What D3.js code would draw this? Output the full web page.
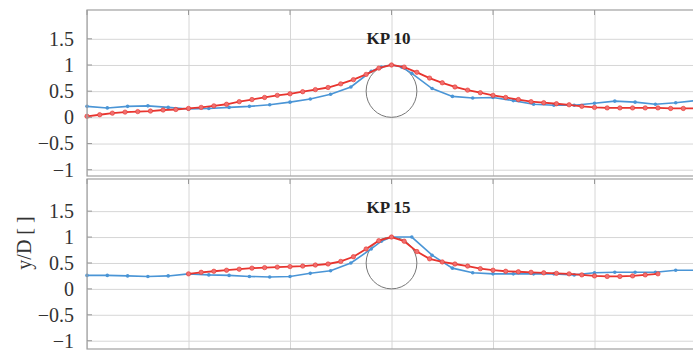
<!DOCTYPE html>
<html>
<head>
<meta charset="utf-8">
<script src="https://cdn.jsdelivr.net/npm/d3@7"></script>
<style>
  body { margin: 0; background: #fff; }
  svg { display: block; }
  text { font-family: "Liberation Serif", "Times New Roman", Times, serif !important; }
</style>
</head>
<body>
<div id="chart"></div>
<script>
// x/D positions and y/D values
const yTicks = [-1, -0.5, 0, 0.5, 1, 1.5];
const xTicks = [-6, -4, -2, 0, 2, 4, 6];

// KP 10
const kp10BlueX = [-6.0,-5.6,-5.2,-4.8,-4.4,-4.0,-3.6,-3.2,-2.8,-2.4,-2.0,-1.6,-1.2,-0.8,-0.4,-0.2,0,0.2,0.4,0.8,1.2,1.6,2.0,2.4,2.8,3.2,3.6,4.0,4.4,4.8,5.2,5.6,6.0];
const kp10BlueY = [0.21,0.18,0.21,0.22,0.19,0.16,0.17,0.19,0.21,0.24,0.29,0.35,0.44,0.58,0.88,0.96,1.0,0.96,0.84,0.55,0.40,0.37,0.38,0.32,0.25,0.23,0.23,0.27,0.31,0.29,0.25,0.28,0.32];
const kp10RedX = [-6.0,-5.75,-5.5,-5.25,-5.0,-4.75,-4.5,-4.25,-4.0,-3.75,-3.5,-3.25,-3.0,-2.75,-2.5,-2.25,-2.0,-1.75,-1.5,-1.25,-1.0,-0.75,-0.5,-0.25,0,0.25,0.5,0.75,1.0,1.25,1.5,1.75,2.0,2.25,2.5,2.75,3.0,3.25,3.5,3.75,4.0,4.25,4.5,4.75,5.0,5.25,5.5,5.75,6.0];
const kp10RedY = [0.02,0.05,0.08,0.10,0.11,0.12,0.14,0.15,0.17,0.19,0.22,0.25,0.30,0.34,0.38,0.42,0.45,0.49,0.53,0.57,0.64,0.72,0.82,0.94,1.0,0.96,0.86,0.75,0.66,0.58,0.52,0.47,0.42,0.38,0.34,0.30,0.28,0.26,0.24,0.21,0.19,0.18,0.18,0.18,0.18,0.18,0.17,0.17,0.17];

// KP 15
const kp15BlueX = [-6.0,-5.6,-5.2,-4.8,-4.4,-4.0,-3.6,-3.2,-2.8,-2.4,-2.0,-1.6,-1.2,-0.8,-0.4,-0.2,0,0.4,0.8,1.2,1.6,2.0,2.4,2.8,3.2,3.6,4.0,4.4,4.8,5.2,5.6,6.0];
const kp15BlueY = [0.26,0.26,0.25,0.24,0.25,0.29,0.27,0.26,0.24,0.23,0.24,0.30,0.35,0.50,0.77,0.92,1.0,1.0,0.65,0.40,0.31,0.29,0.29,0.29,0.29,0.27,0.31,0.32,0.32,0.32,0.36,0.36];
const kp15RedX = [-4.0,-3.75,-3.5,-3.25,-3.0,-2.75,-2.5,-2.25,-2.0,-1.75,-1.5,-1.25,-1.0,-0.75,-0.5,-0.25,0,0.25,0.5,0.75,1.0,1.25,1.5,1.75,2.0,2.25,2.5,2.75,3.0,3.25,3.5,3.75,4.0,4.25,4.5,4.75,5.0,5.25];
const kp15RedY = [0.29,0.32,0.34,0.36,0.38,0.40,0.41,0.42,0.43,0.44,0.46,0.48,0.53,0.62,0.77,0.93,1.0,0.92,0.72,0.58,0.52,0.48,0.44,0.39,0.36,0.34,0.33,0.32,0.31,0.30,0.29,0.27,0.25,0.24,0.24,0.25,0.27,0.29];

const W = 693, H = 351;
const left = 87, right = 696;
const blue = "#4a95d6", red = "#e8342e";

const svg = d3.select("#chart").append("svg")
    .attr("width", W)
    .attr("height", H);

const x = d3.scaleLinear().domain([-6, 6]).range([left, right]);

function zip(xs, ys) {
  return xs.map((v, i) => ({ x: v, y: ys[i] }));
}

function panel(top, bottom, yDomain, title, blueX, blueY, redX, redY) {
  const y = d3.scaleLinear().domain(yDomain).range([bottom, top]);
  const g = svg.append("g");

  // grid
  g.append("g")
      .attr("transform", "translate(0," + bottom + ")")
      .call(d3.axisBottom(x).tickValues(xTicks).tickSize(-(bottom - top)).tickFormat(""))
      .call(a => a.select(".domain").remove())
      .selectAll("line").attr("stroke", "#d6d6d6");

  g.append("g")
      .attr("transform", "translate(" + left + ",0)")
      .call(d3.axisLeft(y).tickValues(yTicks).tickSize(-(right - left)).tickFormat(""))
      .call(a => a.select(".domain").remove())
      .selectAll("line").attr("stroke", "#d6d6d6");

  // tick labels
  g.append("g")
      .attr("transform", "translate(" + left + ",0)")
      .call(d3.axisLeft(y).tickValues(yTicks).tickSize(0).tickPadding(13).tickFormat(d3.format("")))
      .call(a => a.select(".domain").remove())
      .selectAll("text")
      .attr("font-size", 20)
      .attr("fill", "#333");

  // pipe outline, diameter 1 centred at (0, 0.5)
  g.append("ellipse")
      .attr("cx", x(0))
      .attr("cy", y(0.5))
      .attr("rx", x(0.5) - x(0))
      .attr("ry", y(0) - y(0.5))
      .attr("fill", "none")
      .attr("stroke", "#777")
      .attr("stroke-width", 1);

  const line = d3.line().x(d => x(d.x)).y(d => y(d.y));

  const b = zip(blueX, blueY);
  g.append("path").datum(b)
      .attr("d", line)
      .attr("fill", "none")
      .attr("stroke", blue)
      .attr("stroke-width", 1.6);
  g.selectAll(".bdot").data(b).enter().append("circle")
      .attr("cx", d => x(d.x))
      .attr("cy", d => y(d.y))
      .attr("r", 1.8)
      .attr("fill", blue);

  const r = zip(redX, redY);
  g.append("path").datum(r)
      .attr("d", line)
      .attr("fill", "none")
      .attr("stroke", red)
      .attr("stroke-width", 1.8);
  g.selectAll(".rdot").data(r).enter().append("circle")
      .attr("cx", d => x(d.x))
      .attr("cy", d => y(d.y))
      .attr("r", 2.2)
      .attr("fill", "#f07070")
      .attr("stroke", red)
      .attr("stroke-width", 0.6);

  // frame
  g.append("rect")
      .attr("x", left)
      .attr("y", top)
      .attr("width", right - left)
      .attr("height", bottom - top)
      .attr("fill", "none")
      .attr("stroke", "#a0a0a0")
      .attr("stroke-width", 1.2);

  // small inward ticks
  g.selectAll(".yt").data(yTicks).enter().append("line")
      .attr("x1", left).attr("x2", left + 5)
      .attr("y1", d => y(d)).attr("y2", d => y(d))
      .attr("stroke", "#999");
  g.selectAll(".xt").data(xTicks).enter().append("line")
      .attr("x1", d => x(d)).attr("x2", d => x(d))
      .attr("y1", top).attr("y2", top + 5)
      .attr("stroke", "#999");

  g.append("text")
      .attr("x", x(0) - 3)
      .attr("y", top + 34)
      .attr("text-anchor", "middle")
      .attr("font-weight", "bold")
      .attr("font-size", 17)
      .attr("fill", "#222")
      .text(title);
}

panel(10, 176, [-1.12, 2.05], "KP 10", kp10BlueX, kp10BlueY, kp10RedX, kp10RedY);
panel(179, 349, [-1.16, 2.12], "KP 15", kp15BlueX, kp15BlueY, kp15RedX, kp15RedY);

svg.append("text")
    .attr("transform", "translate(31,243) rotate(-90)")
    .attr("text-anchor", "middle")
    .attr("font-size", 20)
    .attr("fill", "#333")
    .text("y/D [ ]");
</script>
</body>
</html>
